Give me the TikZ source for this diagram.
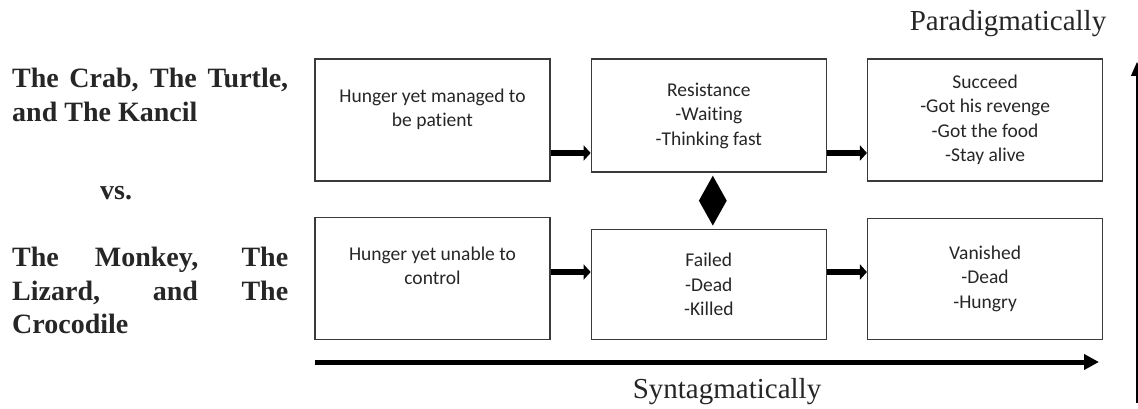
\documentclass[tikz,border=0pt]{standalone}
\usepackage{fontspec}
\setmainfont{Liberation Serif}
\newfontfamily\boxfont[Ligatures=NoCommon]{Carlito}
\usetikzlibrary{arrows.meta,positioning,shapes.geometric,calc}
\definecolor{InkGray}{HTML}{262626}
\definecolor{EdgeGray}{HTML}{3A3A3A}

\begin{document}
\begin{tikzpicture}[
  x=1pt, y=-1pt,
  node distance=35pt and 40pt,
  box/.style={draw=EdgeGray, line width=1.3pt, align=center, minimum width=235pt, inner sep=4pt, text=InkGray, font=\boxfont\fontsize{19.5}{24.5}\selectfont},
  raised/.style={text depth=25pt},
  link/.style={-{Triangle[length=7pt,width=15pt]}, line width=6pt},
  axis/.style={-{Triangle[length=15pt,width=15pt]}, line width=5pt},
  vaxis/.style={-{Triangle[length=14pt,width=12pt]}, line width=1.3pt},
  side/.style={text=InkGray, inner sep=0pt, font=\bfseries\fontsize{28}{33.5}\selectfont},
  caption/.style={text=InkGray, inner sep=0pt, font=\fontsize{29}{34}\selectfont}
]
\useasboundingbox (0,0) rectangle (1138,409);

% top row
\node[box, raised, minimum height=122pt] (hungerA) at (432.5,120) {Hunger yet managed to\\be patient};
\node[box, minimum height=113pt, right=of hungerA.north east, anchor=north west] (resist) {Resistance\\-Waiting\\-Thinking fast};
\node[box, minimum height=122pt, right=of resist.north east, anchor=north west] (succeed) {Succeed\\-Got his revenge\\-Got the food\\-Stay alive};

% bottom row
\node[box, raised, minimum height=122pt, below=of hungerA] (hungerB) {Hunger yet unable to\\control};
\node[box, minimum height=110pt, right=of hungerB.south east, anchor=south west] (failed) {Failed\\-Dead\\-Killed};
\node[box, minimum height=121pt, right=of failed.south east, anchor=south west] (vanish) {Vanished\\-Dead\\-Hungry};

% opposition
\node[diamond, fill=black, inner sep=0pt, minimum width=28pt, minimum height=50pt, xshift=4pt] (opp) at ($(resist.south)!0.5!(failed.north)$) {};

\coordinate (rowA) at (0,153);
\coordinate (rowB) at (0,272);
\draw[link] (hungerA.east |- rowA) -- (resist.west |- rowA);
\draw[link] (resist.east |- rowA) -- (succeed.west |- rowA);
\draw[link] (hungerB.east |- rowB) -- (failed.west |- rowB);
\draw[link] (failed.east |- rowB) -- (vanish.west |- rowB);

% axes
\coordinate (synL) at (315,362);
\coordinate (synR) at (1099,362);
\draw[axis] (synL) -- (synR);
\node[caption, anchor=base] (syn) at (727,398) {Syntagmatically};

\coordinate (parB) at (1137,403);
\coordinate (parT) at (1137,62);
\draw[vaxis] (parB) -- (parT);
\node[caption, anchor=base] (par) at (1008,31) {Paradigmatically};

% left labels
\node[side, text width=276pt, align=justify, anchor=north west] (heroes) at (12,68) {The Crab, The Turtle,\linebreak and The Kancil};
\node[side, anchor=base west] (vs) at (100,200) {vs.};
\node[side, text width=276pt, align=justify, anchor=north west] (villains) at (12,247) {The Monkey, The\linebreak Lizard, and The\linebreak Crocodile};
\end{tikzpicture}
\end{document}
